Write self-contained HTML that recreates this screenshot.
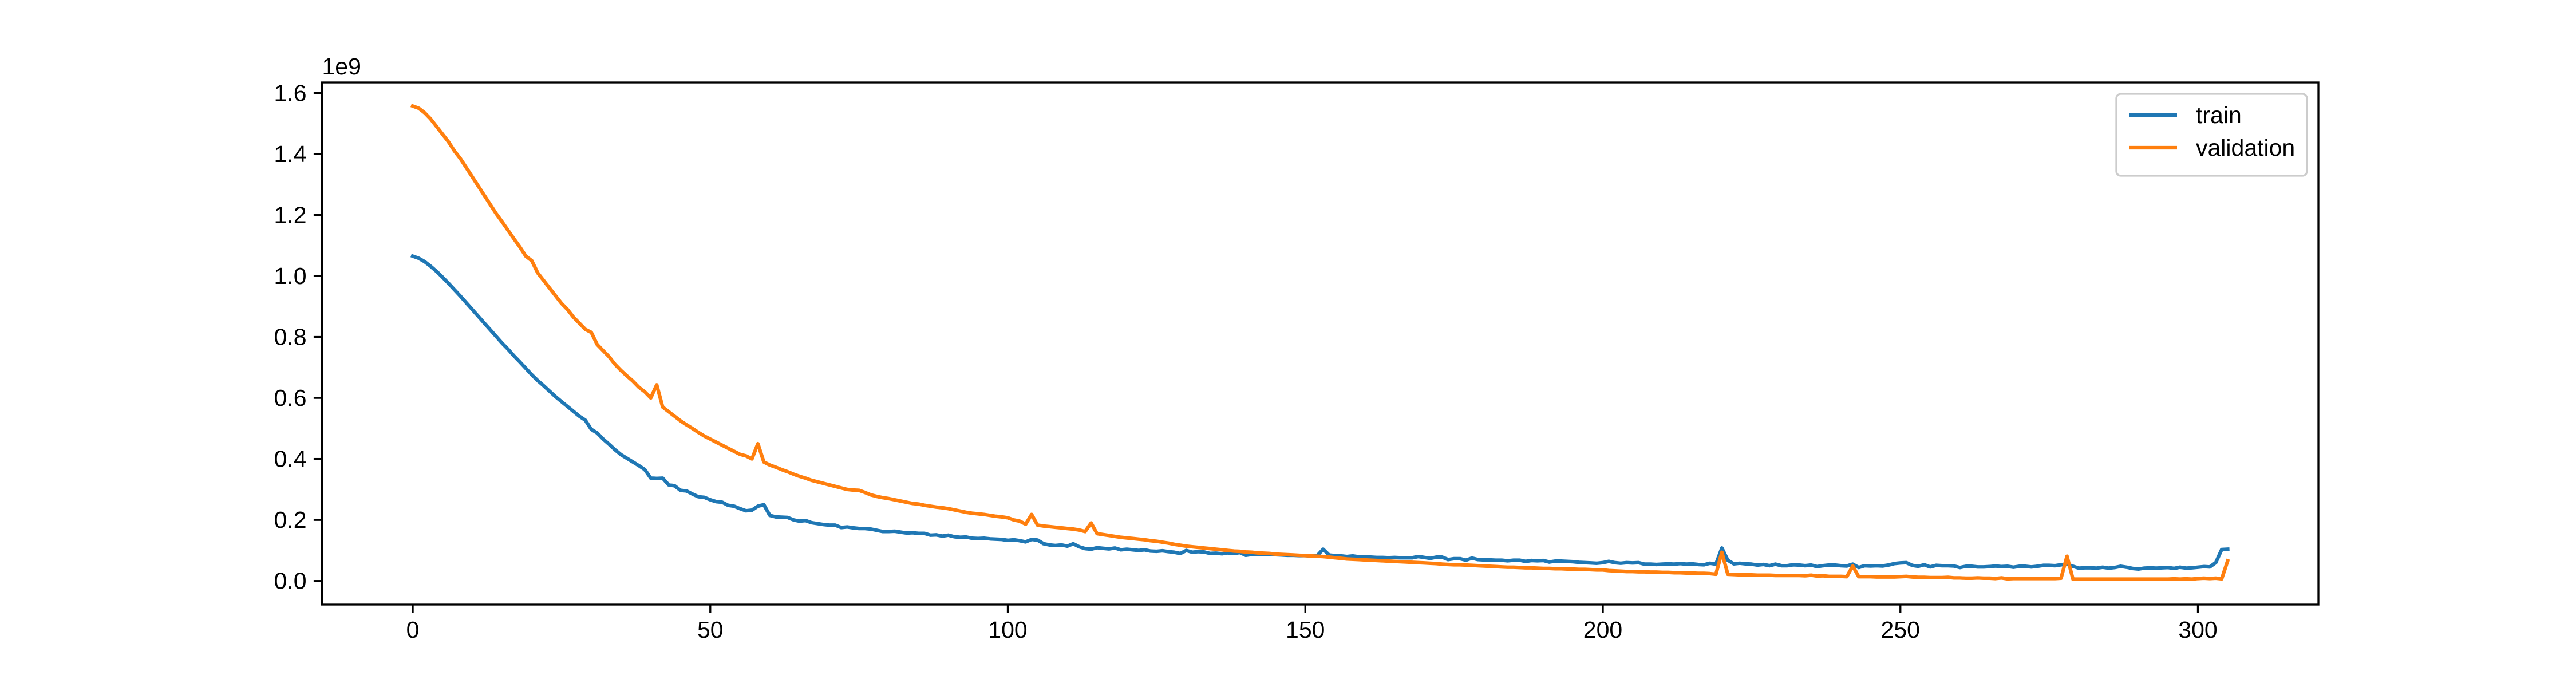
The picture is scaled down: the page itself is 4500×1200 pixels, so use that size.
<!DOCTYPE html>
<html><head><meta charset="utf-8">
<style>
html,body{margin:0;padding:0;background:#fff;}
svg{display:block;font-family:"Liberation Sans","DejaVu Sans",sans-serif;}
</style></head>
<body>
<svg id="chart" width="4500" height="1200" viewBox="0 0 4500 1200" xmlns="http://www.w3.org/2000/svg">
<rect width="4500" height="1200" fill="#fff"/>
<g id="plot"></g>
<g id="axes"></g>
<g id="legend"></g>
</svg>
<script>
const xTicks = [0, 50, 100, 150, 200, 250, 300];
const yTicks = [0.0, 0.2, 0.4, 0.6, 0.8, 1.0, 1.2, 1.4, 1.6];
const yTickLabels = ["0.0","0.2","0.4","0.6","0.8","1.0","1.2","1.4","1.6"];
const seriesNames = ["train", "validation"];
const train = [
1.065,1.058,1.047,1.032,1.015,0.996,0.976,0.955,0.934,0.912,
0.89,0.868,0.846,0.824,0.802,0.78,0.76,0.738,0.718,0.697,
0.676,0.657,0.64,0.622,0.604,0.588,0.572,0.556,0.54,0.527,
0.497,0.485,0.465,0.448,0.43,0.414,0.402,0.39,0.378,0.365,
0.337,0.336,0.337,0.315,0.312,0.297,0.295,0.285,0.276,0.274,
0.266,0.26,0.258,0.248,0.245,0.237,0.23,0.232,0.245,0.25,
0.215,0.21,0.209,0.208,0.2,0.196,0.198,0.191,0.188,0.185,
0.183,0.183,0.175,0.177,0.174,0.172,0.172,0.17,0.166,0.162,
0.162,0.163,0.16,0.157,0.158,0.156,0.156,0.15,0.151,0.147,
0.15,0.145,0.143,0.144,0.14,0.139,0.14,0.138,0.137,0.136,
0.133,0.135,0.132,0.128,0.136,0.134,0.122,0.118,0.116,0.118,
0.114,0.122,0.112,0.106,0.104,0.109,0.107,0.105,0.108,0.102,
0.104,0.102,0.1,0.102,0.098,0.097,0.099,0.096,0.094,0.09,
0.1,0.094,0.096,0.095,0.09,0.091,0.089,0.092,0.09,0.093,
0.084,0.087,0.088,0.087,0.086,0.086,0.085,0.084,0.084,0.083,
0.083,0.082,0.083,0.104,0.085,0.083,0.082,0.08,0.082,0.079,
0.078,0.078,0.077,0.077,0.076,0.077,0.076,0.076,0.076,0.08,
0.077,0.074,0.078,0.078,0.07,0.073,0.073,0.068,0.075,0.07,
0.069,0.069,0.068,0.068,0.066,0.068,0.068,0.064,0.067,0.066,
0.067,0.062,0.065,0.065,0.064,0.063,0.061,0.06,0.059,0.058,
0.06,0.064,0.06,0.058,0.06,0.059,0.06,0.055,0.055,0.054,
0.055,0.056,0.055,0.057,0.055,0.056,0.054,0.053,0.058,0.055,
0.108,0.068,0.056,0.058,0.056,0.055,0.052,0.054,0.05,0.055,
0.05,0.05,0.053,0.052,0.05,0.052,0.047,0.05,0.052,0.052,
0.05,0.049,0.055,0.044,0.05,0.049,0.05,0.049,0.052,0.057,
0.059,0.06,0.051,0.048,0.053,0.046,0.051,0.05,0.05,0.049,
0.044,0.048,0.048,0.046,0.046,0.047,0.049,0.047,0.048,0.045,
0.048,0.048,0.046,0.048,0.051,0.051,0.05,0.053,0.055,0.048,
0.042,0.043,0.043,0.042,0.045,0.042,0.044,0.048,0.045,0.041,
0.039,0.042,0.043,0.042,0.043,0.044,0.041,0.045,0.042,0.043,
0.045,0.047,0.046,0.06,0.103,0.104
];
const validation = [
1.557,1.55,1.535,1.515,1.49,1.465,1.44,1.41,1.385,1.355,
1.325,1.295,1.265,1.235,1.205,1.178,1.15,1.122,1.095,1.065,
1.05,1.01,0.985,0.96,0.935,0.91,0.89,0.865,0.845,0.825,
0.815,0.775,0.755,0.735,0.71,0.69,0.672,0.655,0.635,0.62,
0.6,0.643,0.57,0.555,0.54,0.525,0.512,0.5,0.487,0.475,
0.465,0.455,0.445,0.435,0.425,0.415,0.41,0.4,0.45,0.39,
0.38,0.373,0.365,0.358,0.35,0.343,0.337,0.33,0.325,0.32,
0.315,0.31,0.305,0.3,0.298,0.297,0.29,0.282,0.277,0.273,
0.27,0.266,0.262,0.258,0.254,0.252,0.248,0.245,0.242,0.24,
0.237,0.233,0.229,0.225,0.222,0.22,0.218,0.215,0.212,0.21,
0.207,0.2,0.196,0.186,0.218,0.183,0.18,0.178,0.176,0.174,
0.172,0.17,0.167,0.162,0.19,0.155,0.152,0.149,0.146,0.143,
0.141,0.139,0.137,0.135,0.132,0.13,0.127,0.124,0.12,0.117,
0.114,0.112,0.11,0.108,0.106,0.104,0.102,0.1,0.098,0.097,
0.095,0.094,0.092,0.091,0.09,0.088,0.087,0.086,0.085,0.084,
0.083,0.082,0.081,0.08,0.078,0.076,0.074,0.072,0.071,0.07,
0.069,0.068,0.067,0.066,0.065,0.064,0.063,0.062,0.061,0.06,
0.059,0.058,0.057,0.055,0.054,0.053,0.053,0.052,0.051,0.05,
0.049,0.048,0.047,0.046,0.045,0.045,0.044,0.043,0.043,0.042,
0.041,0.041,0.04,0.04,0.039,0.039,0.038,0.038,0.037,0.036,
0.036,0.034,0.033,0.032,0.031,0.031,0.03,0.03,0.029,0.029,
0.028,0.028,0.027,0.027,0.026,0.026,0.025,0.025,0.024,0.022,
0.094,0.022,0.021,0.02,0.02,0.02,0.019,0.019,0.019,0.018,
0.018,0.018,0.018,0.018,0.017,0.019,0.016,0.017,0.015,0.015,
0.015,0.014,0.049,0.014,0.014,0.014,0.013,0.013,0.013,0.013,
0.014,0.015,0.013,0.012,0.012,0.011,0.011,0.011,0.012,0.01,
0.01,0.009,0.009,0.01,0.009,0.009,0.008,0.01,0.007,0.008,
0.008,0.008,0.008,0.008,0.008,0.008,0.008,0.009,0.081,0.006,
0.006,0.006,0.006,0.006,0.006,0.006,0.006,0.006,0.006,0.006,
0.006,0.006,0.006,0.006,0.006,0.006,0.007,0.006,0.007,0.006,
0.008,0.009,0.008,0.009,0.007,0.066
];

const NS = "http://www.w3.org/2000/svg";
const L = 562.5, R = 4050, T = 144, B = 1056;
const xMin = -15.25, xMax = 320.25, yMin = -0.0775, yMax = 1.6345;
function xs(v){ return L + (v - xMin) / (xMax - xMin) * (R - L); }
function ys(v){ return B - (v - yMin) / (yMax - yMin) * (B - T); }
function mk(tag, attrs, parent){
  const e = document.createElementNS(NS, tag);
  for (const k in attrs) e.setAttribute(k, attrs[k]);
  parent.appendChild(e);
  return e;
}
const plot = document.getElementById('plot');
const axes = document.getElementById('axes');
const legend = document.getElementById('legend');
const colors = ["#1f77b4", "#ff7f0e"];
[train, validation].forEach((arr, si) => {
  const d = arr.map((v, i) => (i ? 'L' : 'M') + xs(i).toFixed(2) + ' ' + ys(v).toFixed(2)).join(' ');
  const p = mk('path', {d: d, fill: 'none', stroke: colors[si], 'stroke-width': 6.25, 'stroke-linejoin': 'round', 'stroke-linecap': 'square'}, plot);
  
  
});
// spines
const frame = mk('rect', {x: L, y: T, width: R - L, height: B - T, fill: 'none', stroke: '#000', 'stroke-width': 3.33}, axes);


xTicks.forEach(t => {
  const x = xs(t);
  const tk = mk('line', {x1: x, x2: x, y1: B, y2: B + 14.6, stroke: '#000', 'stroke-width': 3.33}, axes);
  
  
  const tx = mk('text', {x: x, y: B + 58, 'font-size': 41, 'text-anchor': 'middle', fill: '#000'}, axes);
  tx.textContent = String(t);
  
  
});
yTicks.forEach((t, i) => {
  const y = ys(t);
  const tk = mk('line', {x1: L - 14.6, x2: L, y1: y, y2: y, stroke: '#000', 'stroke-width': 3.33}, axes);
  
  
  const tx = mk('text', {x: L - 27, y: y + 14, 'font-size': 41, 'text-anchor': 'end', fill: '#000'}, axes);
  tx.textContent = yTickLabels[i];
  
  
});
const off = mk('text', {x: L, y: 130, 'font-size': 41, fill: '#000'}, axes);
off.textContent = '1e9';


// legend
const box = mk('rect', {x: 3697, y: 164, width: 333, height: 143, rx: 8, fill: '#fff', 'fill-opacity': 0.8, stroke: '#ccc', 'stroke-width': 3.33}, legend);


seriesNames.forEach((n, i) => {
  const y = 201 + i * 57;
  const ln = mk('line', {x1: 3720, x2: 3803, y1: y, y2: y, stroke: colors[i], 'stroke-width': 6.25}, legend);
  
  
  const tx = mk('text', {x: 3836, y: y + 14, 'font-size': 41, fill: '#000'}, legend);
  tx.textContent = n;
  
  
});
</script>
</body></html>
